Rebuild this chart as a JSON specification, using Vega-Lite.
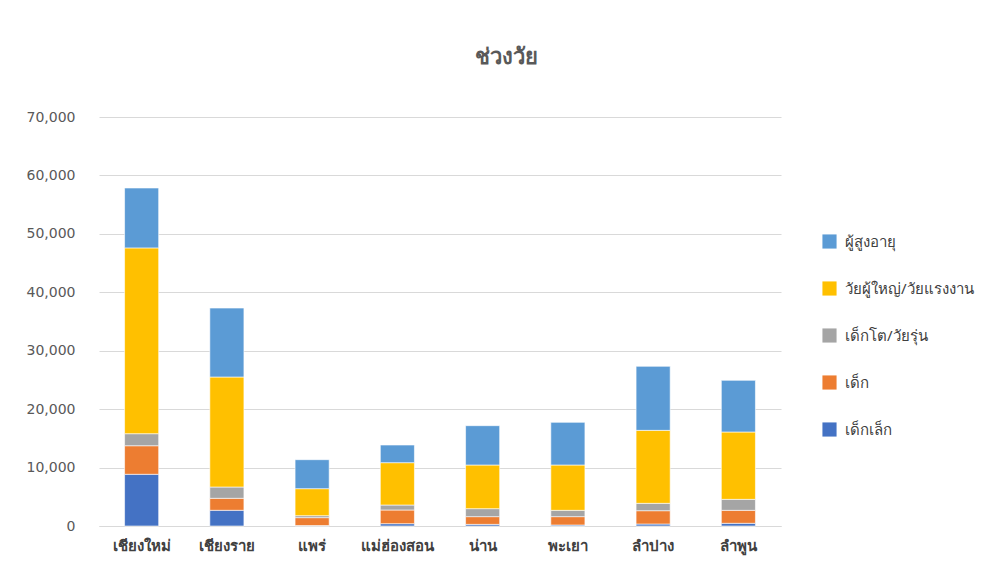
{
  "$schema": "https://vega.github.io/schema/vega-lite/v6.json",
  "autosize": {"type": "none"},
  "width": 682,
  "height": 409,
  "padding": {"left": 99, "top": 117, "right": 212, "bottom": 55},
  "background": "white",
  "title": {
    "text": "ช่วงวัย",
    "anchor": "middle",
    "frame": "group",
    "dx": 66,
    "offset": 41,
    "fontSize": 22,
    "fontWeight": "bold",
    "color": "#595959",
    "font": "Noto Sans"
  },
  "data": {
    "values": [
      {"province": "เชียงใหม่", "group": "เด็กเล็ก", "code": 1, "value": 8850},
      {"province": "เชียงใหม่", "group": "เด็ก", "code": 2, "value": 4890},
      {"province": "เชียงใหม่", "group": "เด็กโต/วัยรุ่น", "code": 3, "value": 2060},
      {"province": "เชียงใหม่", "group": "วัยผู้ใหญ่/วัยแรงงาน", "code": 4, "value": 31800},
      {"province": "เชียงใหม่", "group": "ผู้สูงอายุ", "code": 5, "value": 10250},
      {"province": "เชียงราย", "group": "เด็กเล็ก", "code": 1, "value": 2690},
      {"province": "เชียงราย", "group": "เด็ก", "code": 2, "value": 2050},
      {"province": "เชียงราย", "group": "เด็กโต/วัยรุ่น", "code": 3, "value": 1930},
      {"province": "เชียงราย", "group": "วัยผู้ใหญ่/วัยแรงงาน", "code": 4, "value": 18830},
      {"province": "เชียงราย", "group": "ผู้สูงอายุ", "code": 5, "value": 11800},
      {"province": "แพร่", "group": "เด็กเล็ก", "code": 1, "value": 80},
      {"province": "แพร่", "group": "เด็ก", "code": 2, "value": 1350},
      {"province": "แพร่", "group": "เด็กโต/วัยรุ่น", "code": 3, "value": 340},
      {"province": "แพร่", "group": "วัยผู้ใหญ่/วัยแรงงาน", "code": 4, "value": 4620},
      {"province": "แพร่", "group": "ผู้สูงอายุ", "code": 5, "value": 4960},
      {"province": "แม่ฮ่องสอน", "group": "เด็กเล็ก", "code": 1, "value": 400},
      {"province": "แม่ฮ่องสอน", "group": "เด็ก", "code": 2, "value": 2340},
      {"province": "แม่ฮ่องสอน", "group": "เด็กโต/วัยรุ่น", "code": 3, "value": 850},
      {"province": "แม่ฮ่องสอน", "group": "วัยผู้ใหญ่/วัยแรงงาน", "code": 4, "value": 7250},
      {"province": "แม่ฮ่องสอน", "group": "ผู้สูงอายุ", "code": 5, "value": 3020},
      {"province": "น่าน", "group": "เด็กเล็ก", "code": 1, "value": 280},
      {"province": "น่าน", "group": "เด็ก", "code": 2, "value": 1320},
      {"province": "น่าน", "group": "เด็กโต/วัยรุ่น", "code": 3, "value": 1370},
      {"province": "น่าน", "group": "วัยผู้ใหญ่/วัยแรงงาน", "code": 4, "value": 7470},
      {"province": "น่าน", "group": "ผู้สูงอายุ", "code": 5, "value": 6730},
      {"province": "พะเยา", "group": "เด็กเล็ก", "code": 1, "value": 170},
      {"province": "พะเยา", "group": "เด็ก", "code": 2, "value": 1430},
      {"province": "พะเยา", "group": "เด็กโต/วัยรุ่น", "code": 3, "value": 1080},
      {"province": "พะเยา", "group": "วัยผู้ใหญ่/วัยแรงงาน", "code": 4, "value": 7760},
      {"province": "พะเยา", "group": "ผู้สูงอายุ", "code": 5, "value": 7300},
      {"province": "ลำปาง", "group": "เด็กเล็ก", "code": 1, "value": 340},
      {"province": "ลำปาง", "group": "เด็ก", "code": 2, "value": 2280},
      {"province": "ลำปาง", "group": "เด็กโต/วัยรุ่น", "code": 3, "value": 1260},
      {"province": "ลำปาง", "group": "วัยผู้ใหญ่/วัยแรงงาน", "code": 4, "value": 12490},
      {"province": "ลำปาง", "group": "ผู้สูงอายุ", "code": 5, "value": 10960},
      {"province": "ลำพูน", "group": "เด็กเล็ก", "code": 1, "value": 460},
      {"province": "ลำพูน", "group": "เด็ก", "code": 2, "value": 2220},
      {"province": "ลำพูน", "group": "เด็กโต/วัยรุ่น", "code": 3, "value": 1880},
      {"province": "ลำพูน", "group": "วัยผู้ใหญ่/วัยแรงงาน", "code": 4, "value": 11530},
      {"province": "ลำพูน", "group": "ผู้สูงอายุ", "code": 5, "value": 8840}
    ]
  },
  "mark": {"type": "bar", "stroke": "white", "strokeWidth": 0.6},
  "encoding": {
    "x": {
      "field": "province",
      "type": "nominal",
      "sort": null,
      "scale": {"paddingInner": 0.6, "paddingOuter": 0.3},
      "axis": {
        "title": null,
        "labelAngle": 0,
        "labelFontSize": 15,
        "labelFontWeight": "bold",
        "labelColor": "#404040",
        "labelPadding": 12,
        "ticks": false,
        "domainColor": "#D9D9D9",
        "domainWidth": 1
      }
    },
    "y": {
      "field": "value",
      "type": "quantitative",
      "stack": "zero",
      "scale": {"domain": [0, 70000], "nice": false},
      "axis": {
        "title": null,
        "values": [0, 10000, 20000, 30000, 40000, 50000, 60000, 70000],
        "format": ",.0f",
        "labelFontSize": 14,
        "labelColor": "#595959",
        "labelFont": "DejaVu Sans",
        "labelPadding": 24,
        "ticks": false,
        "domain": false,
        "gridColor": "#D9D9D9",
        "gridWidth": 1
      }
    },
    "color": {
      "field": "group",
      "type": "nominal",
      "scale": {
        "domain": ["ผู้สูงอายุ", "วัยผู้ใหญ่/วัยแรงงาน", "เด็กโต/วัยรุ่น", "เด็ก", "เด็กเล็ก"],
        "range": ["#5B9BD5", "#FFC000", "#A5A5A5", "#ED7D31", "#4472C4"]
      },
      "legend": {
        "title": null,
        "orient": "none",
        "legendX": 723,
        "legendY": 117,
        "symbolType": "square",
        "symbolSize": 200,
        "symbolStrokeWidth": 0,
        "labelFontSize": 15,
        "labelColor": "#404040",
        "rowPadding": 31,
        "labelOffset": 8
      }
    },
    "order": {"field": "code", "type": "quantitative", "sort": "ascending"}
  },
  "config": {
    "view": {"stroke": null},
    "font": "Noto Sans"
  }
}
